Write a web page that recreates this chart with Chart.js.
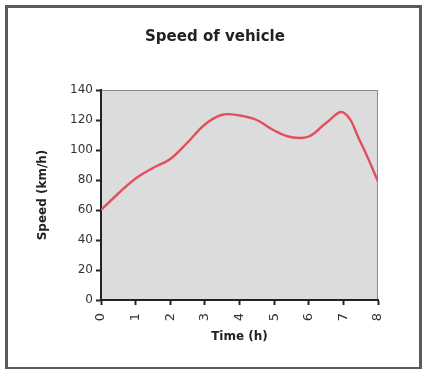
<!DOCTYPE html>
<html>
<head>
<meta charset="utf-8">
<script src="https://cdn.jsdelivr.net/npm/chart.js@4"></script>
<style>
  html, body { margin: 0; padding: 0; background: #fff; }
  #wrap { position: relative; width: 422px; height: 369px; }
  #frame { position: absolute; left: 5px; top: 5px; width: 411px; height: 359px; border: 3px solid #5a5a5a; }
  canvas { position: absolute; left: 0; top: 0; }
</style>
</head>
<body>
<div id="wrap">
  <div id="frame"></div>
  <canvas id="myChart" width="422" height="369"></canvas>
</div>
<script>
// hours and speed
var times = [0, 0.5, 1, 1.5, 2, 2.5, 3, 3.5, 4, 4.5, 5, 5.5, 6, 6.5, 7, 7.5, 8];
var speeds = [60, 71, 81, 88, 94, 105, 117, 123.5, 123, 120, 113, 108.5, 109, 118, 125, 105, 79];
var xTicks = [0, 1, 2, 3, 4, 5, 6, 7, 8];
var yTicks = [0, 20, 40, 60, 80, 100, 120, 140];

var points = times.map(function (t, i) { return { x: t, y: speeds[i] }; });

// grey plot area with thin frame
var plotBg = {
    id: 'plotBg',
    beforeDraw: function (chart) {
        var a = chart.chartArea, c = chart.ctx;
        c.save();
        c.fillStyle = '#dcdcdc';
        c.fillRect(a.left, a.top, a.right - a.left, a.bottom - a.top);
        c.strokeStyle = '#8a8a8a';
        c.lineWidth = 1;
        c.strokeRect(a.left + 0.5, a.top + 0.5, a.right - a.left - 1, a.bottom - a.top - 1);
        c.restore();
    }
};

var ctx = document.getElementById('myChart').getContext('2d');
var myChart = new Chart(ctx, {
    type: 'line',
    data: {
        datasets: [{
            label: 'Speed',
            data: points,
            borderColor: '#e0505e',
            borderWidth: 2.4,
            pointRadius: 0,
            tension: 0.4,
            fill: false
        }]
    },
    options: {
        responsive: false,
        animation: false,
        layout: { padding: { left: 8, right: 0, top: 0, bottom: 0 } },
        plugins: {
            legend: { display: false },
            tooltip: { enabled: false },
            title: {
                display: true,
                text: 'Speed of vehicle',
                color: '#222',
                font: { family: 'DejaVu Sans', size: 15, weight: 'bold' },
                padding: { top: 28, bottom: 44 }
            }
        },
        scales: {
            x: {
                type: 'linear',
                min: 0,
                max: 8,
                afterBuildTicks: function (scale) {
                    scale.ticks = xTicks.map(function (v) { return { value: v }; });
                },
                afterFit: function (scale) { scale.height = 69; },
                ticks: {
                    minRotation: 90,
                    maxRotation: 90,
                    padding: 8,
                    color: '#333',
                    font: { family: 'DejaVu Sans', size: 13 }
                },
                grid: { drawOnChartArea: false, tickLength: 5, tickColor: '#222', tickWidth: 2 },
                border: { color: '#222', width: 2 },
                title: {
                    display: true,
                    text: 'Time (h)',
                    color: '#222',
                    font: { family: 'DejaVu Sans', size: 12, weight: 'bold' },
                    padding: { top: 0, bottom: 25 }
                }
            },
            y: {
                min: 0,
                max: 140,
                afterBuildTicks: function (scale) {
                    scale.ticks = yTicks.map(function (v) { return { value: v }; });
                },
                afterFit: function (scale) { scale.width = 93; },
                ticks: {
                    padding: 3,
                    color: '#333',
                    font: { family: 'DejaVu Sans', size: 12 }
                },
                grid: { drawOnChartArea: false, tickLength: 5, tickColor: '#222', tickWidth: 2 },
                border: { color: '#222', width: 2 },
                title: {
                    display: true,
                    text: 'Speed (km/h)',
                    color: '#222',
                    font: { family: 'DejaVu Sans', size: 12, weight: 'bold' },
                    padding: { top: 28, bottom: 0 }
                }
            },
            // empty right-hand space so the title centres on the whole frame
            spacer: {
                position: 'right',
                display: true,
                afterFit: function (scale) { scale.width = 44; },
                ticks: { display: false },
                grid: { display: false },
                border: { display: false }
            }
        }
    },
    plugins: [plotBg]
});
</script>
</body>
</html>
